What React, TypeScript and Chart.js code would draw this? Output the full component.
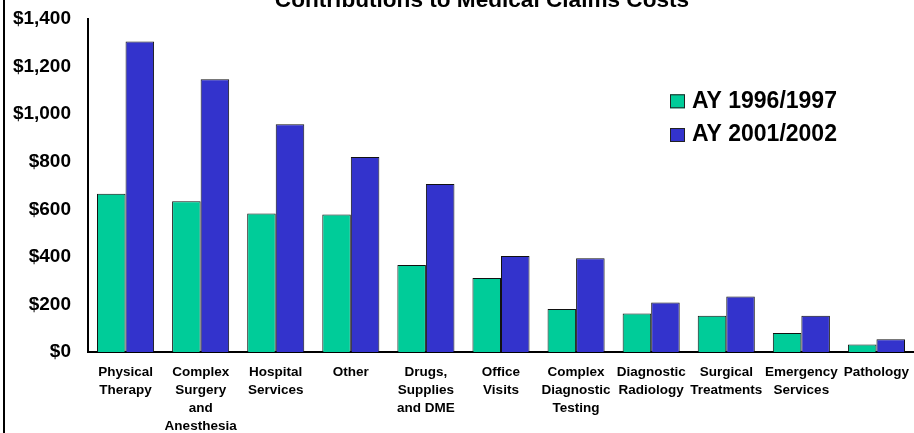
import React, { useEffect, useRef } from "react";
import { Chart, registerables } from "chart.js";

Chart.register(...registerables);

const titleText = "Contributions to Medical Claims Costs";

const categories: string[][] = [
  ["Physical", "Therapy"],
  ["Complex", "Surgery", "and", "Anesthesia"],
  ["Hospital", "Services"],
  ["Other"],
  ["Drugs,", "Supplies", "and DME"],
  ["Office", "Visits"],
  ["Complex", "Diagnostic", "Testing"],
  ["Diagnostic", "Radiology"],
  ["Surgical", "Treatments"],
  ["Emergency", "Services"],
  ["Pathology"],
];

const seriesLabels = ["AY 1996/1997", "AY 2001/2002"];
const ay1996 = [665, 634, 582, 578, 366, 311, 181, 162, 152, 80, 32];
const ay2001 = [1305, 1147, 957, 820, 706, 404, 394, 208, 233, 152, 54];

const yTickValues = [0, 200, 400, 600, 800, 1000, 1200, 1400];
const yTickLabels = ["$0", "$200", "$400", "$600", "$800", "$1,000", "$1,200", "$1,400"];

const FONT = "Arial, 'Liberation Sans', Helvetica, sans-serif";
const GREEN = "#00CC99";
const BLUE = "#3333CC";

const decorPlugin = {
  id: "decor",
  afterDraw(chart: any) {
    const ctx = chart.ctx as CanvasRenderingContext2D;
    ctx.save();
    // outer frame left edge
    ctx.fillStyle = "#000";
    ctx.fillRect(3, 0, 2, chart.height);
    // title
    ctx.font = `bold 22.6px ${FONT}`;
    ctx.textAlign = "center";
    ctx.textBaseline = "alphabetic";
    ctx.fillStyle = "#000";
    ctx.fillText(titleText, 482, 7);
    // legend
    chart.data.datasets.forEach((ds: any, i: number) => {
      const cy = 101.3 + i * 33.7;
      ctx.fillStyle = ds.backgroundColor;
      ctx.fillRect(670, cy - 7, 15, 14);
      ctx.strokeStyle = "#222";
      ctx.lineWidth = 1;
      ctx.strokeRect(670.5, cy - 6.5, 14, 13);
      ctx.fillStyle = "#000";
      ctx.font = `bold 23px ${FONT}`;
      ctx.textAlign = "left";
      ctx.textBaseline = "middle";
      ctx.fillText(ds.label, 692, cy);
    });
    ctx.restore();
  },
};

export default function App() {
  const ref = useRef<HTMLCanvasElement | null>(null);

  useEffect(() => {
    if (!ref.current) return;
    const chart = new Chart(ref.current, {
      type: "bar",
      data: {
        labels: categories,
        datasets: [
          {
            label: seriesLabels[0],
            data: ay1996,
            backgroundColor: GREEN,
            borderColor: "#111",
            borderWidth: 1,
          },
          {
            label: seriesLabels[1],
            data: ay2001,
            backgroundColor: BLUE,
            borderColor: "#111",
            borderWidth: 1,
          },
        ],
      },
      options: {
        responsive: false,
        animation: false,
        devicePixelRatio: 1,
        layout: { padding: { top: 19, left: 0, right: 0, bottom: 0 } },
        plugins: {
          legend: { display: false },
          title: { display: false },
          tooltip: { enabled: false },
        },
        datasets: {
          bar: { barPercentage: 1, categoryPercentage: 0.76 },
        },
        scales: {
          x: {
            grid: { display: false, drawTicks: false },
            border: { display: true, color: "#000", width: 2 },
            ticks: {
              autoSkip: false,
              maxRotation: 0,
              minRotation: 0,
              padding: 11,
              color: "#000",
              font: { family: FONT, size: 13.5, weight: "bold", lineHeight: 18 / 13.5 },
            },
            afterFit: (s: any) => {
              s.height = 81;
              s.paddingLeft = 0;
              s.paddingRight = 0;
            },
          },
          y: {
            min: 0,
            max: 1400,
            afterBuildTicks: (s: any) => {
              s.ticks = yTickValues.map((v) => ({ value: v }));
            },
            grid: { display: false, drawTicks: false },
            border: { display: true, color: "#000", width: 2 },
            ticks: {
              padding: 17,
              color: "#000",
              font: { family: FONT, size: 19, weight: "bold" },
              callback: (_v: any, i: number) => yTickLabels[i],
            },
            afterFit: (s: any) => {
              s.width = 88;
              s.paddingTop = 0;
              s.paddingBottom = 0;
            },
          },
        },
      },
      plugins: [decorPlugin],
    });
    return () => chart.destroy();
  }, []);

  return (
    <div style={{ position: "fixed", left: 0, top: 0, width: 914, height: 433, background: "#fff" }}>
      <canvas ref={ref} width={914} height={433} style={{ display: "block" }} />
    </div>
  );
}
